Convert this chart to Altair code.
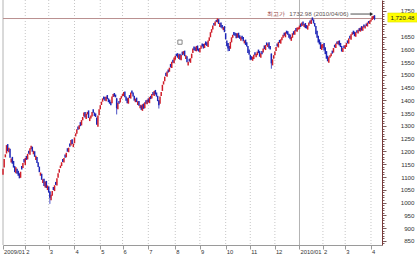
import altair as alt
import pandas as pd

# ---- daily candles (KOSPI), one list per month ----
c_2009_01 = [1130, 1168, 1186, 1222, 1204, 1212, 1178, 1170, 1155, 1140, 1122, 1135, 1116, 1108, 1098, 1118, 1132, 1152, 1160]
o_2009_01 = [1112, 1140, 1180, 1195, 1226, 1200, 1208, 1160, 1176, 1160, 1140, 1118, 1130, 1122, 1112, 1100, 1140, 1138, 1168]
c_2009_02 = [1172, 1170, 1188, 1194, 1210, 1220, 1202, 1200, 1182, 1180, 1158, 1142, 1122, 1115, 1092, 1088, 1068, 1080, 1060, 1064]
o_2009_02 = [1150, 1180, 1172, 1200, 1190, 1212, 1216, 1192, 1198, 1170, 1176, 1155, 1138, 1108, 1110, 1080, 1090, 1062, 1082, 1052]
c_2009_03 = [1042, 1022, 1028, 1042, 1052, 1065, 1072, 1092, 1112, 1128, 1142, 1155, 1162, 1172, 1178, 1192, 1202, 1212, 1222, 1242, 1232, 1228]
o_2009_03 = [1060, 1040, 1012, 1030, 1058, 1048, 1078, 1070, 1100, 1120, 1138, 1146, 1168, 1160, 1185, 1180, 1210, 1200, 1228, 1226, 1245, 1220]
c_2009_04 = [1252, 1268, 1284, 1288, 1300, 1302, 1320, 1332, 1350, 1336, 1345, 1352, 1334, 1330, 1338, 1352, 1355, 1342, 1338, 1308, 1338, 1362]
o_2009_04 = [1235, 1262, 1272, 1295, 1290, 1312, 1305, 1325, 1340, 1352, 1330, 1348, 1358, 1322, 1332, 1340, 1362, 1350, 1346, 1330, 1300, 1345]
c_2009_05 = [1378, 1392, 1405, 1406, 1402, 1412, 1408, 1396, 1390, 1384, 1412, 1422, 1418, 1415, 1372, 1388, 1390, 1406, 1414]
o_2009_05 = [1368, 1385, 1398, 1412, 1410, 1400, 1418, 1405, 1400, 1392, 1392, 1416, 1426, 1420, 1405, 1368, 1395, 1395, 1410]
c_2009_06 = [1422, 1430, 1415, 1402, 1392, 1408, 1412, 1428, 1430, 1418, 1402, 1404, 1396, 1394, 1382, 1380, 1366, 1382, 1370, 1390, 1390, 1400]
o_2009_06 = [1420, 1420, 1432, 1412, 1405, 1390, 1418, 1410, 1436, 1428, 1415, 1396, 1408, 1385, 1395, 1372, 1378, 1362, 1385, 1372, 1398, 1388]
c_2009_07 = [1395, 1410, 1408, 1422, 1424, 1434, 1426, 1418, 1400, 1384, 1412, 1430, 1458, 1472, 1490, 1498, 1510, 1512, 1525, 1532, 1548, 1550, 1565]
o_2009_07 = [1405, 1392, 1415, 1410, 1430, 1420, 1438, 1428, 1415, 1398, 1390, 1420, 1440, 1465, 1478, 1505, 1496, 1518, 1515, 1540, 1530, 1556, 1548]
c_2009_08 = [1572, 1576, 1570, 1578, 1562, 1575, 1580, 1590, 1576, 1574, 1552, 1548, 1555, 1562, 1580, 1600, 1600, 1596, 1610, 1598, 1594]
o_2009_08 = [1562, 1580, 1582, 1565, 1580, 1560, 1588, 1582, 1592, 1565, 1570, 1540, 1560, 1550, 1568, 1588, 1608, 1605, 1595, 1612, 1600]
c_2009_09 = [1602, 1612, 1614, 1606, 1620, 1620, 1616, 1632, 1644, 1664, 1676, 1690, 1696, 1706, 1710, 1718, 1702, 1700, 1688, 1684, 1684, 1670]
o_2009_09 = [1590, 1605, 1620, 1618, 1608, 1628, 1625, 1612, 1636, 1650, 1668, 1680, 1700, 1695, 1712, 1708, 1715, 1690, 1702, 1692, 1678, 1688]
c_2009_10 = [1642, 1615, 1606, 1596, 1626, 1644, 1654, 1658, 1656, 1646, 1660, 1648, 1644, 1646, 1642, 1634, 1632, 1620, 1614, 1588, 1582]
o_2009_10 = [1660, 1632, 1622, 1610, 1605, 1630, 1648, 1665, 1662, 1660, 1648, 1662, 1652, 1636, 1650, 1645, 1626, 1635, 1625, 1610, 1596]
c_2009_11 = [1562, 1562, 1568, 1576, 1580, 1580, 1588, 1588, 1574, 1582, 1584, 1600, 1604, 1614, 1618, 1620, 1606, 1602, 1548, 1558, 1574]
o_2009_11 = [1575, 1570, 1558, 1565, 1586, 1572, 1580, 1596, 1590, 1570, 1590, 1590, 1612, 1600, 1624, 1612, 1625, 1610, 1580, 1540, 1566]
c_2009_12 = [1588, 1606, 1614, 1626, 1628, 1636, 1644, 1654, 1656, 1664, 1664, 1660, 1648, 1642, 1646, 1660, 1660, 1672, 1674, 1682, 1683]
o_2009_12 = [1580, 1596, 1620, 1610, 1634, 1625, 1638, 1648, 1662, 1650, 1670, 1668, 1658, 1655, 1636, 1648, 1668, 1660, 1680, 1672, 1680]
c_2010_01 = [1690, 1690, 1702, 1696, 1696, 1686, 1684, 1690, 1702, 1704, 1714, 1716, 1704, 1692, 1662, 1648, 1630, 1622, 1604, 1616]
o_2010_01 = [1682, 1698, 1694, 1706, 1690, 1700, 1692, 1680, 1695, 1710, 1702, 1722, 1714, 1700, 1688, 1670, 1650, 1636, 1625, 1600]
c_2010_02 = [1618, 1598, 1584, 1566, 1556, 1566, 1574, 1582, 1586, 1602, 1610, 1620, 1624, 1630, 1618, 1612, 1594, 1602, 1608]
o_2010_02 = [1608, 1622, 1605, 1590, 1572, 1550, 1570, 1576, 1592, 1590, 1615, 1608, 1628, 1622, 1632, 1622, 1610, 1592, 1612]
c_2010_03 = [1614, 1622, 1626, 1640, 1644, 1656, 1664, 1662, 1654, 1664, 1668, 1674, 1674, 1682, 1676, 1686, 1688, 1690, 1694, 1702, 1704, 1710]
o_2010_03 = [1604, 1612, 1632, 1625, 1650, 1640, 1660, 1670, 1666, 1652, 1672, 1665, 1680, 1672, 1688, 1676, 1694, 1684, 1698, 1692, 1708, 1702]
c_2010_04 = [1714, 1726, 1728, 1720.48]
o_2010_04 = [1712, 1718, 1722, 1730]

closes_by_month = [c_2009_01, c_2009_02, c_2009_03, c_2009_04, c_2009_05, c_2009_06,
                   c_2009_07, c_2009_08, c_2009_09, c_2009_10, c_2009_11, c_2009_12,
                   c_2010_01, c_2010_02, c_2010_03, c_2010_04]
opens_by_month = [o_2009_01, o_2009_02, o_2009_03, o_2009_04, o_2009_05, o_2009_06,
                  o_2009_07, o_2009_08, o_2009_09, o_2009_10, o_2009_11, o_2009_12,
                  o_2010_01, o_2010_02, o_2010_03, o_2010_04]
month_labels = ["2009/01", "2", "3", "4", "5", "6", "7", "8", "9", "10", "11", "12",
                "2010/01", "2", "3", "4"]

# notable shadows (wicks)
wick_idx = [40, 97, 133, 192, 229, 317]
wick_low = [995, 1345, 1368, 1592, 1524, 1714]
wick_high = [1045, 1410, 1400, 1624, 1584, 1732.98]

peak_value = 1732.98
peak_date = "2010/04/06"
peak_head = "최고가"
marker_idx = [151]
marker_val = [1628]

# ---- tables ----
closes = [v for m in closes_by_month for v in m]
opens = [v for m in opens_by_month for v in m]
n = len(closes)
candles = pd.DataFrame({"i": list(range(n)), "open": opens, "close": closes})
candles["dir"] = ["up" if c >= o else "down" for o, c in zip(opens, closes)]

month_idx = []
acc = 0
for m in closes_by_month:
    month_idx.append(acc)
    acc += len(m)
gridtab = pd.DataFrame({"i": month_idx, "label": month_labels})

wicks = pd.DataFrame({"i": wick_idx, "lo": wick_low, "hi": wick_high,
                      "dir": [candles.loc[k, "dir"] for k in wick_idx]})
last_close = closes[-1]
pricetab = pd.DataFrame({"p": [last_close], "txt": [f"{last_close:,.2f}"]})
peak_i = n - 1
peaktab = pd.DataFrame({"i": [peak_i], "v": [peak_value],
                        "label": [f"{peak_value:.2f} ({peak_date})"], "head": [peak_head]})
markertab = pd.DataFrame({"i": marker_idx, "v": marker_val})

# ---- scales / axes ----
FONT = "Liberation Sans, Arial, sans-serif"
RED = "#d01e2a"
BLUE = "#1e26b8"
XS = alt.Scale(domain=[0, 323.4], nice=False, zero=False)
YS = alt.Scale(domain=[834, 1793], nice=False, zero=False)

label_expr = ("[" + ",".join(f"'{l}'" for l in month_labels) + "][indexof(["
              + ",".join(str(i) for i in month_idx) + "], datum.value)]")
xaxis = alt.Axis(values=month_idx, labelExpr=label_expr, grid=False, title=None,
                 domainColor="#9a9a9a", tickColor="#9a9a9a", tickSize=4,
                 labelAlign="left", labelPadding=-1, labelOffset=0.5, labelFontSize=5.8,
                 labelFont=FONT, labelColor="#333333", labelFlush=False,
                 labelOverlap=False, labelBound=False)
yaxis = alt.Axis(orient="right", values=list(range(840, 1791, 10)), format="d",
                 labelExpr="datum.value % 50 === 0 && datum.value !== 1700 ? datum.label : ''",
                 tickSize={"condition": {"test": "datum.value % 50 === 0", "value": 4}, "value": 2},
                 tickColor="#7a5a5a", domainColor="#7a3a3a", grid=False, title=None,
                 labelAlign="right", labelPadding=28, labelFontSize=6.2, labelFont=FONT,
                 labelColor="#333333", labelOverlap=False, labelBound=False, labelFlush=False)

def X(f="i"):
    return alt.X(f"{f}:Q", scale=XS, axis=xaxis)

def Y(f):
    return alt.Y(f"{f}:Q", scale=YS, axis=yaxis)

dircolor = alt.Color("dir:N", scale=alt.Scale(domain=["up", "down"], range=[RED, BLUE]), legend=None)

grid_dot = alt.Chart(gridtab).transform_filter("indexof(datum.label, '/') < 0").mark_rule(
    color="#c6c6c6", strokeDash=[1, 2], strokeWidth=1).encode(x=X())
grid_solid = alt.Chart(gridtab).transform_filter("indexof(datum.label, '/') >= 0").mark_rule(
    color="#b4b4b4", strokeWidth=1).encode(x=X())

price_line = alt.Chart(pricetab).mark_rule(color="#b99090", strokeWidth=1).encode(y=Y("p"))

body = alt.Chart(candles).mark_rule(strokeWidth=1.5, strokeCap="square").encode(
    x=X(), y=Y("open"), y2="close:Q", color=dircolor)
shadow = alt.Chart(wicks).mark_rule(strokeWidth=0.8).encode(
    x=X(), y=Y("lo"), y2="hi:Q", color=dircolor)

marker = alt.Chart(markertab).mark_point(shape="square", filled=False, color="#555555",
                                         size=18, strokeWidth=1).encode(x=X(), y=Y("v"))

arrow = alt.Chart(peaktab).mark_rule(color="#222222", strokeWidth=0.8, xOffset=-24, x2Offset=-4,
                                     yOffset=-1.3, y2Offset=-1.3).encode(
    x=X(), x2="i:Q", y=Y("v"), y2="v:Q")
arrow_head = alt.Chart(peaktab).mark_point(shape="triangle-right", filled=True, color="#222222",
                                           size=14, xOffset=-3, yOffset=-1.3, opacity=1).encode(
    x=X(), y=Y("v"))
peak_txt = alt.Chart(peaktab).mark_text(align="right", baseline="middle", dx=-26, dy=-1.5,
                                        fontSize=6.2, font=FONT, color="#655656").encode(
    x=X(), y=Y("v"), text="label:N")
peak_head_txt = alt.Chart(peaktab).mark_text(align="right", baseline="middle", dx=-89, dy=-1.5,
                                             fontSize=6.2, font=FONT, color="#9a4444").encode(
    x=X(), y=Y("v"), text="head:N")

box = alt.Chart(pricetab).mark_point(shape="M-1,-0.31L1,-0.31L1,0.31L-1,0.31Z", filled=True,
                                     fill="#ffff00", stroke="#d8d800", strokeWidth=0.5,
                                     size=860, opacity=1, yOffset=-1).encode(
    x=alt.value(399.5), y=Y("p"))
box_txt = alt.Chart(pricetab).mark_text(align="center", baseline="middle", fontSize=6.2, font=FONT,
                                        color="#222222", yOffset=-1).encode(
    x=alt.value(399.5), y=Y("p"), text="txt:N")

chart = alt.layer(grid_dot, grid_solid, price_line, body, shadow, marker,
                  arrow, arrow_head, peak_txt, peak_head_txt, box, box_txt).properties(
    width=379, height=245,
    autosize=alt.AutoSizeParams(type="none"),
    padding={"left": 3, "top": 0, "right": 35, "bottom": 11},
    background="white",
).configure_view(stroke=None)

chart.save("out.html", embed_options={"renderer": "svg", "actions": False})
